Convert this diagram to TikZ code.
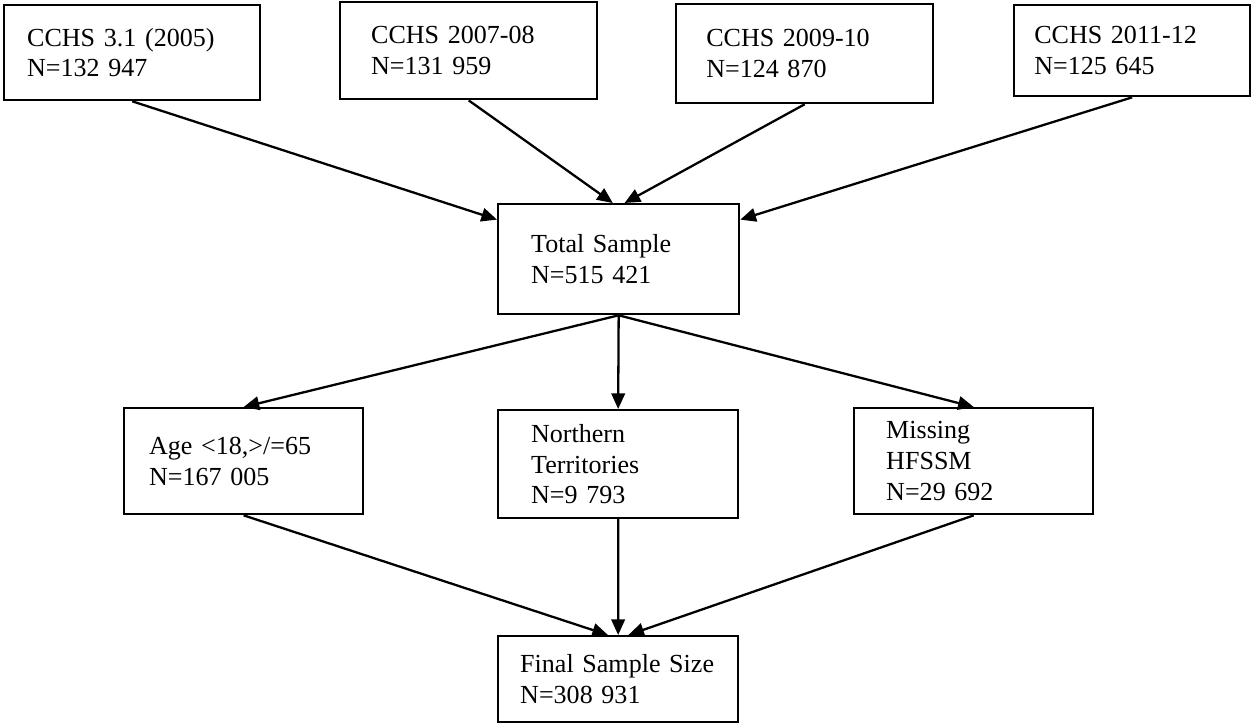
\documentclass[tikz,border=0pt]{standalone}
\usepackage{fontspec}
\setmainfont{Liberation Serif}
\usepackage{tikz}
\usetikzlibrary{arrows.meta, positioning}

\tikzset{
 box/.style={draw, rectangle, line width=1.1pt, anchor=north west, align=left, inner ysep=0pt, font=\fontsize{12.5}{14.8}\selectfont},
 link/.style={line width=1.1pt, -{Triangle[length=7.5pt, width=6.5pt]}}
}

\begin{document}
\begin{tikzpicture}[x=0.48pt, y=-0.48pt]
 \useasboundingbox (0,0) rectangle (1251,723);
 % survey cycles
 \node[box, minimum width=122.9pt, minimum height=45.6pt, inner xsep=11pt, text width=100.8pt] (c05) at (3,4) {CCHS 3.1 (2005)\\N=132 947};
 \node[box, minimum width=123.4pt, minimum height=46.6pt, inner xsep=14.9pt, text width=93.6pt] (c07) at (339,1) {CCHS 2007-08\\N=131 959};
 \node[box, minimum width=123.4pt, minimum height=47.5pt, inner xsep=14.4pt, text width=94.5pt] (c09) at (675,3) {CCHS 2009-10\\N=124 870};
 \node[box, minimum width=113.3pt, minimum height=43.7pt, inner xsep=9.6pt, text width=94pt] (c11) at (1013,4) {CCHS 2011-12\\N=125 645};
 \node[box, minimum width=115.7pt, minimum height=52.8pt, inner xsep=15.8pt, text width=84pt] (total) at (497,203) {Total Sample\\N=515 421};
 % exclusions
 \node[box, minimum width=114.7pt, minimum height=50.9pt, inner xsep=12pt, text width=90.7pt] (age) at (123,407) {Age <18,>/=65\\N=167 005};
 \node[box, minimum width=115.2pt, minimum height=51.8pt, inner xsep=15.8pt, text width=83.5pt] (north) at (497,409) {Northern\\Territories\\N=9 793};
 \node[box, minimum width=114.7pt, minimum height=50.9pt, inner xsep=15.4pt, text width=84pt] (miss) at (853,407) {Missing\\HFSSM\\N=29 692};
 \node[box, minimum width=115.2pt, minimum height=41.3pt, inner xsep=10.6pt, text width=94pt] (final) at (497,635) {Final Sample Size\\N=308 931};

 \draw[link] (c05.south) -- (total.162);
 \draw[link] (c07.south) -- (total.96);
 \draw[link] (c09.south) -- (total.84);
 \draw[link] (c11.south) -- (total.18);
 \draw[link] (total.south) -- (age.north);
 \draw[link] (total.south) -- (north.north);
 \draw[link] (total.south) -- (miss.north);
 \draw[link] (age.south) -- (final.103);
 \draw[link] (north.south) -- (final.north);
 \draw[link] (miss.south) -- (final.77);
\end{tikzpicture}
\end{document}
